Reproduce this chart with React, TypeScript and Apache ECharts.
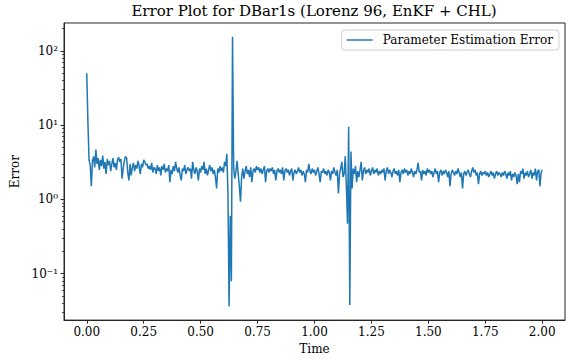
import React, { useEffect, useRef } from "react";
import * as echarts from "echarts";

const chartTitle = "Error Plot for DBar1s (Lorenz 96, EnKF + CHL)";
const seriesName = "Parameter Estimation Error";
const xName = "Time";
const yName = "Error";
const timeStep = 0.005;

// Parameter estimation error, one value every 0.005 time units (t = 0 .. 2)
const errors: number[] = [
  50, 11, 3.4, 2.9, 1.5, 3.3, 3.8, 2.7, 4.7, 3.0,
  3.6, 2.5, 3.4, 2.8, 3.9, 2.6, 3.2, 2.2, 3.5, 2.9,
  3.3, 2.4, 3.0, 3.6, 2.7, 3.1, 2.5, 3.4, 3.7, 3.2,
  3.5, 1.9, 2.6, 3.3, 3.8, 3.6, 2.3, 1.8, 3.0, 2.1,
  2.7, 3.1, 2.4, 2.9, 2.6, 3.3, 2.8, 2.2, 3.0, 2.7,
  3.4, 3.2, 2.9, 3.0, 2.6, 2.8, 2.5, 3.1, 2.3, 2.7,
  2.6, 2.2, 2.9, 2.4, 2.7, 2.1, 2.8, 2.5, 3.0, 2.3,
  2.6, 2.4, 2.9, 1.7, 2.5, 2.2, 2.8, 2.4, 3.2, 2.6,
  2.3, 2.7, 2.1, 1.8, 2.6, 2.4, 2.9, 2.2, 2.5, 2.7,
  2.4, 2.6, 1.9, 3.2, 2.5, 2.2, 2.7, 2.4, 1.8, 2.6,
  2.3, 2.8, 2.5, 3.2, 2.2, 2.6, 2.1, 2.5, 2.9, 2.4,
  2.7, 2.2, 2.5, 2.0, 1.4, 2.6, 2.3, 2.8, 2.4, 2.7,
  2.3, 3.2, 2.8, 4.1, 1.2, 0.036, 0.6, 0.079, 155, 2.6,
  1.9, 2.4, 3.3, 2.2, 1.5, 0.93, 2.0, 2.6, 1.9, 2.4,
  2.8, 2.2, 2.5, 2.0, 2.7, 1.7, 2.4, 2.6, 2.3, 2.8,
  2.5, 2.7, 2.3, 2.6, 2.2, 2.5, 2.8, 1.7, 2.4, 2.6,
  2.3, 2.6, 2.4, 2.7, 2.2, 2.5, 1.8, 2.4, 2.6, 2.3,
  2.5, 2.2, 2.7, 1.8, 2.4, 2.6, 2.3, 2.5, 2.1, 2.4,
  2.6, 1.8, 2.3, 2.5, 2.2, 2.4, 2.7, 2.3, 2.5, 2.1,
  2.4, 2.2, 1.7, 2.5, 2.3, 3.0, 2.4, 2.2, 2.6, 2.3,
  2.5, 2.1, 2.4, 2.7, 2.2, 1.7, 2.4, 2.3, 2.6, 2.2,
  2.4, 2.1, 2.5, 2.3, 1.8, 2.4, 2.2, 2.7, 2.3, 2.1,
  2.5, 1.2, 2.2, 2.6, 3.2, 2.0, 2.2, 3.8, 1.5, 0.47,
  9.5, 0.038, 4.4, 1.4, 2.6, 2.2, 2.8, 1.7, 2.4, 2.0,
  2.5, 3.2, 1.8, 2.4, 2.7, 2.2, 2.5, 2.3, 2.6, 2.1,
  2.4, 2.7, 2.2, 2.5, 2.3, 2.6, 2.1, 2.4, 2.2, 2.5,
  2.3, 2.6, 1.8, 2.4, 2.7, 2.2, 2.5, 2.3, 2.0, 2.4,
  2.6, 2.2, 2.4, 2.1, 2.5, 1.7, 2.3, 2.5, 2.2, 2.6,
  2.3, 2.5, 2.1, 2.4, 2.2, 2.6, 2.3, 2.0, 2.4, 2.2,
  2.5, 3.1, 2.3, 2.4, 1.8, 2.5, 2.2, 2.4, 2.1, 2.6,
  2.3, 2.5, 2.2, 2.4, 2.0, 2.3, 2.6, 2.2, 2.4, 1.7,
  2.3, 2.5, 2.1, 2.4, 2.2, 2.5, 2.3, 2.0, 2.4, 1.5,
  2.2, 2.5, 2.3, 2.1, 2.4, 2.2, 2.6, 2.3, 2.0, 2.3,
  1.4, 2.2, 2.4, 2.1, 2.3, 2.5, 2.2, 2.0, 2.4, 2.7,
  2.3, 2.5, 2.1, 2.3, 1.6, 2.2, 2.4, 2.1, 2.3, 2.2,
  2.4, 2.1, 2.3, 2.0, 2.2, 2.4, 2.1, 2.3, 1.9, 2.2,
  2.4, 2.1, 2.3, 2.2, 2.0, 2.3, 2.1, 2.4, 2.2, 1.9,
  2.3, 2.1, 2.4, 1.8, 2.2, 2.0, 2.3, 2.1, 1.6, 2.2,
  1.7, 2.4, 2.2, 2.6, 1.9, 2.3, 2.1, 2.4, 2.0, 2.2,
  2.5, 1.9, 2.3, 2.1, 2.6, 1.8, 2.4, 2.5, 1.5, 2.3,
  2.5,
];

const xTicks = [0, 0.25, 0.5, 0.75, 1.0, 1.25, 1.5, 1.75, 2.0];
const yMajorTicks = [0.1, 1, 10, 100];
const yMinorTicks = [
  0.03, 0.04, 0.05, 0.06, 0.07, 0.08, 0.09,
  0.2, 0.3, 0.4, 0.5, 0.6, 0.7, 0.8, 0.9,
  2, 3, 4, 5, 6, 7, 8, 9,
  20, 30, 40, 50, 60, 70, 80, 90,
  200,
];
const superscripts: Record<string, string> = { "-1": "⁻¹", "0": "⁰", "1": "¹", "2": "²" };

const FONT = "DejaVu Serif";
const AXIS_COLOR = "#262626";

export default function App() {
  const ref = useRef<HTMLDivElement>(null);
  useEffect(() => {
    if (!ref.current) return;
    const chart = echarts.init(ref.current, undefined, { renderer: "svg" });
    const points = errors.map((v, i) => [i * timeStep, v]);
    const yMin = 0.0237;
    const yMax = 237;
    chart.setOption({
      animation: false,
      backgroundColor: "#fff",
      title: {
        text: chartTitle,
        left: 314,
        textAlign: "center",
        top: 3,
        padding: 0,
        textStyle: { fontFamily: FONT, fontSize: 15, fontWeight: "normal", color: "#000" },
      },
      legend: {
        right: 8,
        top: 30,
        padding: [4, 6, 4, 5],
        backgroundColor: "#fff",
        borderColor: "#d0d0d0",
        borderWidth: 1,
        borderRadius: 3,
        itemWidth: 26,
        itemHeight: 14,
        textStyle: { fontFamily: FONT, fontSize: 12, color: "#000", padding: [0, 0, 0, 5] },
        data: [{ name: seriesName, icon: "path://M0,0 L26,0 L26,1.5 L0,1.5 Z" }],
      },
      grid: {
        left: 64,
        right: 2,
        top: 23,
        bottom: 38,
        show: true,
        borderColor: AXIS_COLOR,
        borderWidth: 1,
        backgroundColor: "transparent",
      },
      xAxis: {
        type: "value",
        min: -0.1,
        max: 2.1,
        name: xName,
        nameLocation: "middle",
        nameGap: 19,
        nameTextStyle: { fontFamily: FONT, fontSize: 12, color: "#000" },
        axisLine: { show: true, onZero: false, lineStyle: { color: AXIS_COLOR, width: 1 } },
        axisTick: { show: true, length: 3.5, customValues: xTicks, lineStyle: { color: AXIS_COLOR } },
        axisLabel: {
          customValues: xTicks,
          margin: 6,
          fontFamily: FONT,
          fontSize: 12,
          color: "#000",
          formatter: (v: number) => v.toFixed(2),
        },
        splitLine: { show: false },
      },
      yAxis: [
        {
          type: "log",
          logBase: 10,
          min: yMin,
          max: yMax,
          name: yName,
          nameLocation: "middle",
          nameGap: 40,
          nameTextStyle: { fontFamily: FONT, fontSize: 12, color: "#000" },
          axisLine: { show: true, onZero: false, lineStyle: { color: AXIS_COLOR, width: 1 } },
          axisTick: { show: true, length: 3.5, customValues: yMajorTicks, lineStyle: { color: AXIS_COLOR } },
          axisLabel: {
            customValues: yMajorTicks,
            margin: 6,
            fontFamily: FONT,
            fontSize: 12,
            color: "#000",
            formatter: (v: number) => "10" + (superscripts[String(Math.round(Math.log10(v)))] || ""),
          },
          splitLine: { show: false },
        },
        {
          type: "log",
          logBase: 10,
          min: yMin,
          max: yMax,
          position: "left",
          axisLine: { show: false, onZero: false },
          axisTick: { show: true, length: 2, customValues: yMinorTicks, lineStyle: { color: AXIS_COLOR, width: 0.8 } },
          axisLabel: { show: false },
          splitLine: { show: false },
        },
      ],
      series: [
        {
          name: seriesName,
          type: "line",
          data: points,
          symbol: "none",
          showSymbol: false,
          lineStyle: { color: "#1f77b4", width: 1.5 },
          itemStyle: { color: "#1f77b4" },
          emphasis: { disabled: true },
        },
      ],
    });
    return () => chart.dispose();
  }, []);
  return <div ref={ref} style={{ width: 567, height: 360, position: "absolute", left: 0, top: 0 }} />;
}
